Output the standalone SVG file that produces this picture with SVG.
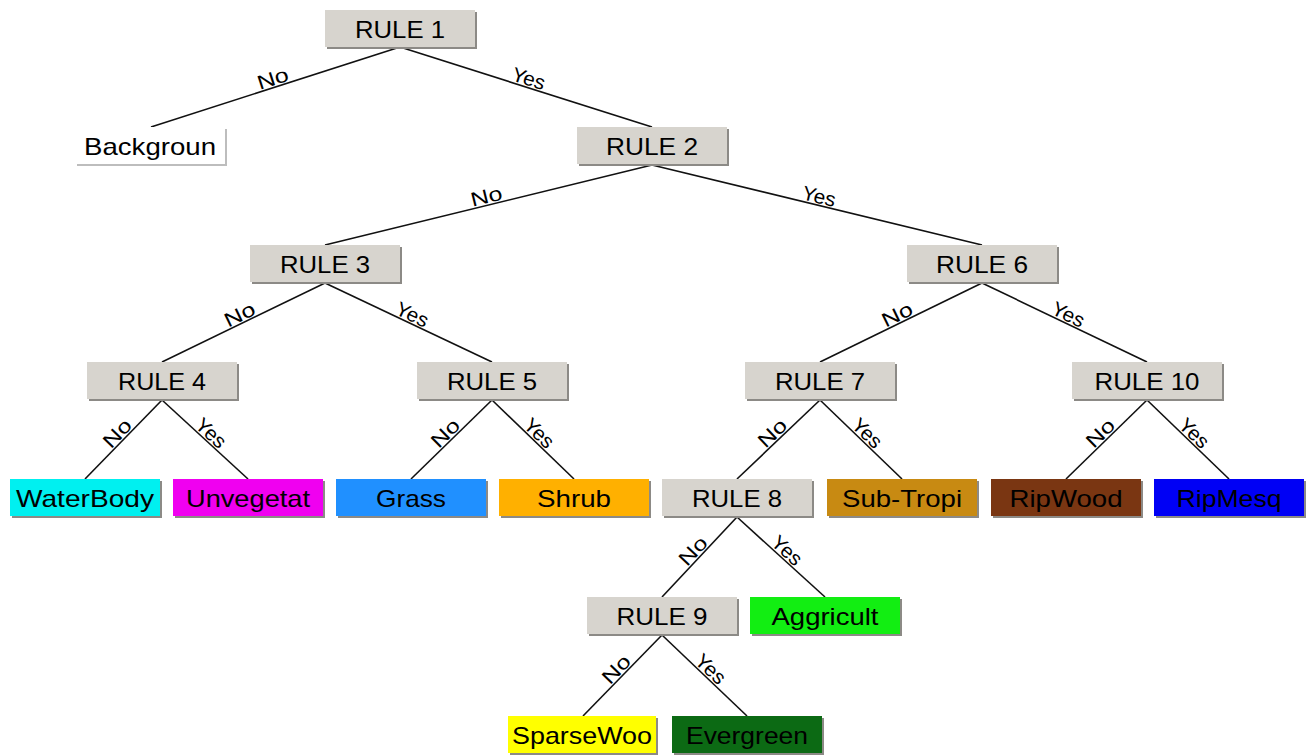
<svg xmlns="http://www.w3.org/2000/svg" width="1307" height="755" viewBox="0 0 1307 755">
<style>
.bx{stroke:none}
.sh{fill:#8c8a86}
.rule{fill:#d7d4ce}
.t{font-family:"Liberation Sans",Arial,sans-serif;font-size:24px;fill:#000;text-anchor:middle;dominant-baseline:central}
.lb{font-family:"Liberation Sans",Arial,sans-serif;font-size:20px;fill:#000;text-anchor:middle}
.e{stroke:#111;stroke-width:1.6;fill:none}
</style>
<rect width="1307" height="755" fill="#fff"/>
<g id="connectors">
<line class="e" x1="400" y1="47" x2="151" y2="127"/>
<line class="e" x1="400" y1="47" x2="652" y2="127"/>
<line class="e" x1="652" y1="165" x2="325" y2="245"/>
<line class="e" x1="652" y1="165" x2="982" y2="245"/>
<line class="e" x1="325" y1="283" x2="162" y2="362"/>
<line class="e" x1="325" y1="283" x2="492" y2="362"/>
<line class="e" x1="982" y1="283" x2="820" y2="362"/>
<line class="e" x1="982" y1="283" x2="1147" y2="362"/>
<line class="e" x1="162" y1="400" x2="85" y2="479"/>
<line class="e" x1="162" y1="400" x2="248" y2="479"/>
<line class="e" x1="492" y1="400" x2="411" y2="479"/>
<line class="e" x1="492" y1="400" x2="574" y2="479"/>
<line class="e" x1="820" y1="400" x2="737" y2="479"/>
<line class="e" x1="820" y1="400" x2="902" y2="479"/>
<line class="e" x1="1147" y1="400" x2="1066" y2="479"/>
<line class="e" x1="1147" y1="400" x2="1229" y2="479"/>
<line class="e" x1="737" y1="517" x2="662" y2="597"/>
<line class="e" x1="737" y1="517" x2="825" y2="597"/>
<line class="e" x1="662" y1="635" x2="583" y2="716"/>
<line class="e" x1="662" y1="635" x2="747" y2="716"/>
<text class="lb" transform="translate(275.5,87) rotate(-17.8)" y="-2" textLength="32" lengthAdjust="spacingAndGlyphs">No</text>
<text class="lb" transform="translate(526,87) rotate(17.6)" y="-2" textLength="34" lengthAdjust="spacingAndGlyphs">Yes</text>
<text class="lb" transform="translate(488.5,205) rotate(-13.75)" y="-2" textLength="32" lengthAdjust="spacingAndGlyphs">No</text>
<text class="lb" transform="translate(817,205) rotate(13.6)" y="-2" textLength="34" lengthAdjust="spacingAndGlyphs">Yes</text>
<text class="lb" transform="translate(243.5,322.5) rotate(-25.85)" y="-2" textLength="32" lengthAdjust="spacingAndGlyphs">No</text>
<text class="lb" transform="translate(408.5,322.5) rotate(25.3)" y="-2" textLength="34" lengthAdjust="spacingAndGlyphs">Yes</text>
<text class="lb" transform="translate(901,322.5) rotate(-26)" y="-2" textLength="32" lengthAdjust="spacingAndGlyphs">No</text>
<text class="lb" transform="translate(1064.5,322.5) rotate(25.6)" y="-2" textLength="34" lengthAdjust="spacingAndGlyphs">Yes</text>
<text class="lb" transform="translate(123.5,439.5) rotate(-45.7)" y="-2" textLength="32" lengthAdjust="spacingAndGlyphs">No</text>
<text class="lb" transform="translate(205,439.5) rotate(42.6)" y="-2" textLength="34" lengthAdjust="spacingAndGlyphs">Yes</text>
<text class="lb" transform="translate(451.5,439.5) rotate(-44.3)" y="-2" textLength="32" lengthAdjust="spacingAndGlyphs">No</text>
<text class="lb" transform="translate(533,439.5) rotate(43.9)" y="-2" textLength="34" lengthAdjust="spacingAndGlyphs">Yes</text>
<text class="lb" transform="translate(778.5,439.5) rotate(-43.6)" y="-2" textLength="32" lengthAdjust="spacingAndGlyphs">No</text>
<text class="lb" transform="translate(861,439.5) rotate(43.9)" y="-2" textLength="34" lengthAdjust="spacingAndGlyphs">Yes</text>
<text class="lb" transform="translate(1106.5,439.5) rotate(-44.3)" y="-2" textLength="32" lengthAdjust="spacingAndGlyphs">No</text>
<text class="lb" transform="translate(1188,439.5) rotate(43.9)" y="-2" textLength="34" lengthAdjust="spacingAndGlyphs">Yes</text>
<text class="lb" transform="translate(699.5,557) rotate(-46.8)" y="-2" textLength="32" lengthAdjust="spacingAndGlyphs">No</text>
<text class="lb" transform="translate(781,557) rotate(42.3)" y="-2" textLength="34" lengthAdjust="spacingAndGlyphs">Yes</text>
<text class="lb" transform="translate(622.5,675.5) rotate(-45.7)" y="-2" textLength="32" lengthAdjust="spacingAndGlyphs">No</text>
<text class="lb" transform="translate(704.5,675.5) rotate(43.6)" y="-2" textLength="34" lengthAdjust="spacingAndGlyphs">Yes</text>
</g>
<g id="rule1"><rect class="sh" x="327" y="12" width="150" height="37"/><rect class="rule" x="325" y="10" width="150" height="37"/><text class="t" x="400" y="29" textLength="90" lengthAdjust="spacingAndGlyphs">RULE 1</text></g>
<g id="background"><rect fill="#bdbdbd" x="77" y="129" width="150" height="37"/><rect fill="#fff" x="75" y="127" width="150" height="37"/><text class="t" x="150" y="146" textLength="132" lengthAdjust="spacingAndGlyphs">Backgroun</text></g>
<g id="rule2"><rect class="sh" x="579" y="129" width="150" height="37"/><rect class="rule" x="577" y="127" width="150" height="37"/><text class="t" x="652" y="146" textLength="92" lengthAdjust="spacingAndGlyphs">RULE 2</text></g>
<g id="rule3"><rect class="sh" x="252" y="247" width="150" height="37"/><rect class="rule" x="250" y="245" width="150" height="37"/><text class="t" x="325" y="264" textLength="90" lengthAdjust="spacingAndGlyphs">RULE 3</text></g>
<g id="rule6"><rect class="sh" x="909" y="247" width="150" height="37"/><rect class="rule" x="907" y="245" width="150" height="37"/><text class="t" x="982" y="264" textLength="92" lengthAdjust="spacingAndGlyphs">RULE 6</text></g>
<g id="rule4"><rect class="sh" x="89" y="364" width="150" height="37"/><rect class="rule" x="87" y="362" width="150" height="37"/><text class="t" x="162" y="381" textLength="88" lengthAdjust="spacingAndGlyphs">RULE 4</text></g>
<g id="rule5"><rect class="sh" x="419" y="364" width="150" height="37"/><rect class="rule" x="417" y="362" width="150" height="37"/><text class="t" x="492" y="381" textLength="90" lengthAdjust="spacingAndGlyphs">RULE 5</text></g>
<g id="rule7"><rect class="sh" x="747" y="364" width="150" height="37"/><rect class="rule" x="745" y="362" width="150" height="37"/><text class="t" x="820" y="381" textLength="90" lengthAdjust="spacingAndGlyphs">RULE 7</text></g>
<g id="rule10"><rect class="sh" x="1074" y="364" width="150" height="37"/><rect class="rule" x="1072" y="362" width="150" height="37"/><text class="t" x="1147" y="381" textLength="105" lengthAdjust="spacingAndGlyphs">RULE 10</text></g>
<g id="waterbody"><rect class="sh" x="12" y="481" width="150" height="37"/><rect fill="#00f0f0" x="10" y="479" width="150" height="37"/><text class="t" x="85" y="498" textLength="138" lengthAdjust="spacingAndGlyphs">WaterBody</text></g>
<g id="unvegetat"><rect class="sh" x="175" y="481" width="150" height="37"/><rect fill="#f000f0" x="173" y="479" width="150" height="37"/><text class="t" x="248" y="498" textLength="124" lengthAdjust="spacingAndGlyphs">Unvegetat</text></g>
<g id="grass"><rect class="sh" x="338" y="481" width="150" height="37"/><rect fill="#2090ff" x="336" y="479" width="150" height="37"/><text class="t" x="411" y="498" textLength="70" lengthAdjust="spacingAndGlyphs">Grass</text></g>
<g id="shrub"><rect class="sh" x="501" y="481" width="150" height="37"/><rect fill="#ffb000" x="499" y="479" width="150" height="37"/><text class="t" x="574" y="498" textLength="74" lengthAdjust="spacingAndGlyphs">Shrub</text></g>
<g id="rule8"><rect class="sh" x="664" y="481" width="150" height="37"/><rect class="rule" x="662" y="479" width="150" height="37"/><text class="t" x="737" y="498" textLength="90" lengthAdjust="spacingAndGlyphs">RULE 8</text></g>
<g id="subtropi"><rect class="sh" x="829" y="481" width="150" height="37"/><rect fill="#c88a12" x="827" y="479" width="150" height="37"/><text class="t" x="902" y="498" textLength="120" lengthAdjust="spacingAndGlyphs">Sub-Tropi</text></g>
<g id="ripwood"><rect class="sh" x="993" y="481" width="150" height="37"/><rect fill="#7a3612" x="991" y="479" width="150" height="37"/><text class="t" x="1066" y="498" textLength="113" lengthAdjust="spacingAndGlyphs">RipWood</text></g>
<g id="ripmesq"><rect class="sh" x="1156" y="481" width="150" height="37"/><rect fill="#0000f5" x="1154" y="479" width="150" height="37"/><text class="t" x="1229" y="498" textLength="105" lengthAdjust="spacingAndGlyphs">RipMesq</text></g>
<g id="rule9"><rect class="sh" x="589" y="599" width="150" height="37"/><rect class="rule" x="587" y="597" width="150" height="37"/><text class="t" x="662" y="616" textLength="91" lengthAdjust="spacingAndGlyphs">RULE 9</text></g>
<g id="aggricult"><rect class="sh" x="752" y="599" width="150" height="37"/><rect fill="#12ee12" x="750" y="597" width="150" height="37"/><text class="t" x="825" y="616" textLength="107" lengthAdjust="spacingAndGlyphs">Aggricult</text></g>
<g id="sparsewoo"><rect class="sh" x="510" y="718" width="148" height="37"/><rect fill="#ffff00" x="508" y="716" width="148" height="37"/><text class="t" x="582" y="735" textLength="140" lengthAdjust="spacingAndGlyphs">SparseWoo</text></g>
<g id="evergreen"><rect class="sh" x="674" y="718" width="150" height="37"/><rect fill="#0c6a14" x="672" y="716" width="150" height="37"/><text class="t" x="747" y="735" textLength="122" lengthAdjust="spacingAndGlyphs">Evergreen</text></g>
</svg>
